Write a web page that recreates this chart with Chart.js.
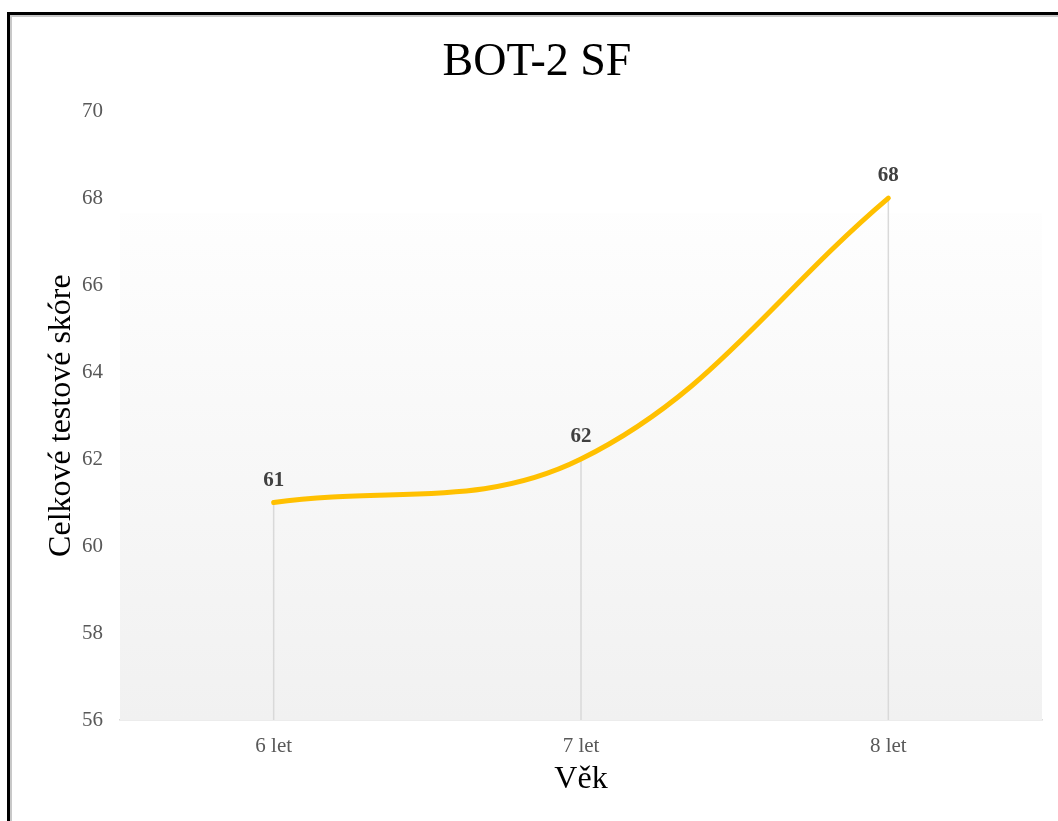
<!DOCTYPE html>
<html>
<head>
<meta charset="utf-8">
<script src="https://cdn.jsdelivr.net/npm/chart.js@4"></script>
<style>
  html, body { margin: 0; padding: 0; background: #fff; overflow: hidden; }
  #frame {
    position: absolute; left: 7px; top: 12px; width: 1100px; height: 900px;
    border-left: 3px solid #000; border-top: 3px solid #000;
    box-shadow: inset 2px 2px 0 #c8c8c8;
  }
  #chart { position: absolute; left: 0; top: 0; }
</style>
</head>
<body>
<div id="frame"></div>
<canvas id="chart" width="1058" height="821"></canvas>
<script>
const FONT = '"Liberation Serif", "Times New Roman", serif';

const categories = ['6 let', '7 let', '8 let'];
const scores = [61, 62, 68];
const yTicks = [56, 58, 60, 62, 64, 66, 68, 70];

// plot background, drop lines, value labels
const decorations = {
  id: 'decorations',
  afterLayout(chart) {
    // title sits a little right of the canvas centre
    chart.titleBlock.left += 32;
  },
  beforeDatasetsDraw(chart) {
    const { ctx, chartArea: a } = chart;
    ctx.save();
    const g = ctx.createLinearGradient(0, a.top, 0, a.bottom);
    g.addColorStop(0, '#ffffff');
    g.addColorStop(0.15, '#fefefe');
    g.addColorStop(1, '#f1f1f1');
    ctx.fillStyle = g;
    ctx.fillRect(a.left, a.top + 102, a.right - a.left, a.bottom - a.top - 102);

    const meta = chart.getDatasetMeta(0);
    ctx.strokeStyle = '#d9d9d9';
    ctx.lineWidth = 1.5;
    meta.data.forEach(pt => {
      ctx.beginPath();
      ctx.moveTo(pt.x, pt.y);
      ctx.lineTo(pt.x, a.bottom);
      ctx.stroke();
    });
    ctx.restore();
  },
  afterDatasetsDraw(chart) {
    const { ctx } = chart;
    const meta = chart.getDatasetMeta(0);
    ctx.save();
    ctx.font = 'bold 21px ' + FONT;
    ctx.fillStyle = '#404040';
    ctx.textAlign = 'center';
    ctx.textBaseline = 'alphabetic';
    meta.data.forEach((pt, i) => {
      ctx.fillText(String(scores[i]), pt.x, pt.y - 17);
    });
    ctx.restore();
  }
};

new Chart(document.getElementById('chart'), {
  type: 'line',
  data: {
    labels: categories,
    datasets: [{
      data: scores,
      borderColor: '#ffc000',
      borderWidth: 5,
      borderCapStyle: 'round',
      tension: 0.38,
      pointRadius: 0,
      fill: false
    }]
  },
  options: {
    responsive: false,
    animation: false,
    layout: { padding: { left: 0, right: 16, top: 0, bottom: 0 } },
    plugins: {
      legend: { display: false },
      tooltip: { enabled: false },
      title: {
        display: true,
        text: 'BOT-2 SF',
        color: '#000',
        font: { family: FONT, size: 46, weight: 'normal' },
        padding: { top: 35, bottom: 21 }
      }
    },
    scales: {
      x: {
        offset: true,
        grid: { display: false, drawTicks: false },
        border: { display: true, color: '#d9d9d9', width: 1.5 },
        ticks: { color: '#595959', font: { family: FONT, size: 21 }, padding: 14 },
        title: {
          display: true,
          text: 'Věk',
          color: '#000',
          font: { family: FONT, size: 32 },
          padding: { top: 0, bottom: 22 }
        },
        afterFit(scale) { scale.height = 101; }
      },
      y: {
        min: yTicks[0],
        max: yTicks[yTicks.length - 1],
        afterBuildTicks(scale) { scale.ticks = yTicks.map(v => ({ value: v })); },
        grid: { display: false, drawTicks: false },
        border: { display: false },
        ticks: { color: '#595959', font: { family: FONT, size: 21 }, padding: 17 },
        title: {
          display: true,
          text: 'Celkové testové skóre',
          color: '#000',
          font: { family: FONT, size: 32 },
          padding: { top: 42, bottom: 0 }
        },
        afterFit(scale) { scale.width = 120; }
      }
    }
  },
  plugins: [decorations]
});
</script>
</body>
</html>
